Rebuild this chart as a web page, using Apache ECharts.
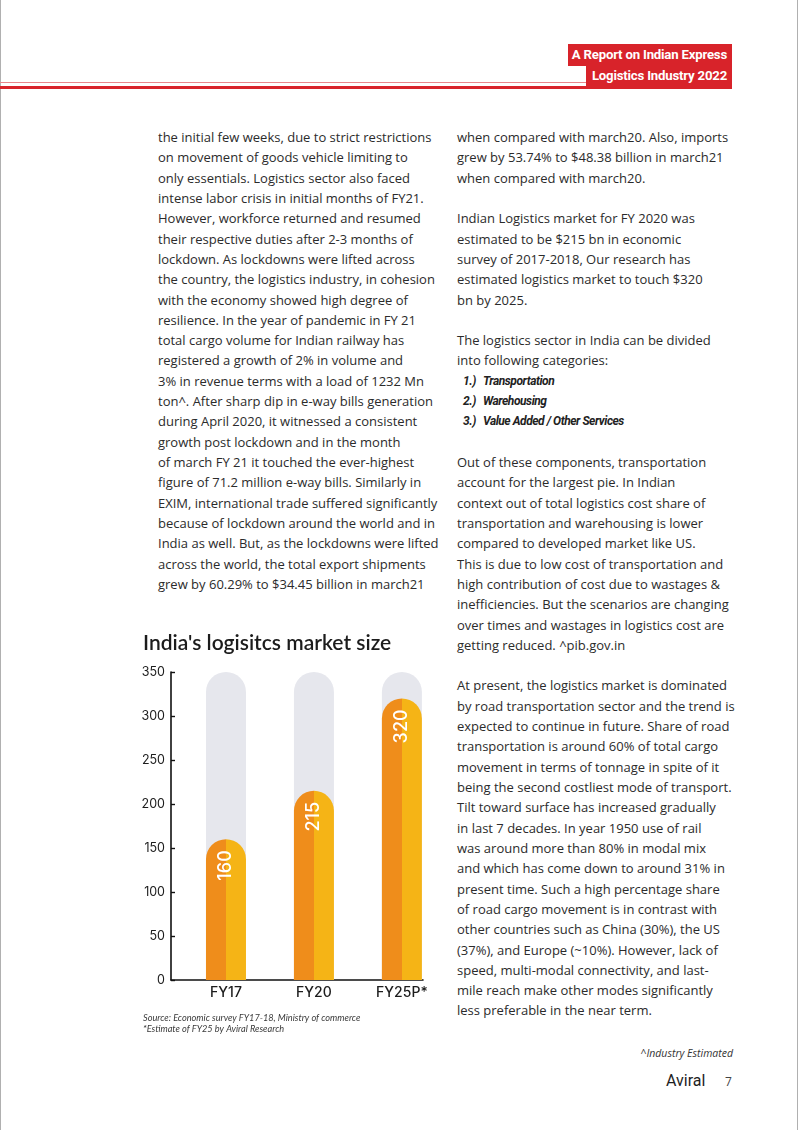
<!DOCTYPE html>
<html>
<head>
<meta charset="utf-8">
<script src="https://cdn.jsdelivr.net/npm/echarts@6/dist/echarts.min.js"></script>
<style>
  html, body { margin: 0; padding: 0; background: #fff; }
  #page { position: relative; width: 802px; height: 1130px; overflow: hidden; background: #fff; }
  .edgeL { position: absolute; left: 0; top: 0; width: 1px; height: 1130px; background: #b0b0b0; }
  .edgeR { position: absolute; left: 797px; top: 0; width: 1px; height: 1130px; background: #b0b0b0; }
  .hbox { position: absolute; background: #d8232a; color: #fff; font-family: Roboto, sans-serif; font-weight: 700;
          font-size: 13.2px; letter-spacing: -0.2px; text-align: right; box-sizing: border-box; padding-right: 5px; white-space: nowrap; }
  .thin { position: absolute; left: 0; top: 82px; width: 586px; height: 1px; background: #e9868a; }
  .thick { position: absolute; left: 0; top: 86px; width: 732px; height: 3px; background: #d8232a; }
  .col { position: absolute; top: 127px; font-family: "Open Sans", sans-serif; font-size: 13px; line-height: 20.32px;
         color: #2b2b2b; white-space: nowrap; }
  .li { font-family: "Roboto", sans-serif; font-weight: 700; font-style: italic; font-size: 12px; letter-spacing: -0.45px;
        padding-left: 6px; color: #222; }
  .li span { display: inline-block; width: 20px; }
  #chart { position: absolute; left: 130px; top: 620px; width: 310px; height: 420px; }
  .foot { position: absolute; font-family: "Open Sans", sans-serif; color: #333; white-space: nowrap; }
</style>
</head>
<body>
<div id="page">
  <div class="edgeL"></div>
  <div class="edgeR"></div>
  <div class="hbox" style="left:568px; top:44px; width:164px; height:22px; line-height:22px;">A Report on Indian Express</div>
  <div class="hbox" style="left:586px; top:66px; width:146px; height:21px; line-height:19px;">Logistics Industry 2022</div>
  <div class="thin"></div>
  <div class="thick"></div>

  <div class="col" style="left:158px;">
    the initial few weeks, due to strict restrictions<br>
    on movement of goods vehicle limiting to<br>
    only essentials. Logistics sector also faced<br>
    intense labor crisis in initial months of FY21.<br>
    However, workforce returned and resumed<br>
    their respective duties after 2-3 months of<br>
    lockdown. As lockdowns were lifted across<br>
    the country, the logistics industry, in cohesion<br>
    with the economy showed high degree of<br>
    resilience. In the year of pandemic in FY 21<br>
    total cargo volume for Indian railway has<br>
    registered a growth of 2% in volume and<br>
    3% in revenue terms with a load of 1232 Mn<br>
    ton^. After sharp dip in e-way bills generation<br>
    during April 2020, it witnessed a consistent<br>
    growth post lockdown and in the month<br>
    of march FY 21 it touched the ever-highest<br>
    figure of 71.2 million e-way bills. Similarly in<br>
    EXIM, international trade suffered significantly<br>
    because of lockdown around the world and in<br>
    India as well. But, as the lockdowns were lifted<br>
    across the world, the total export shipments<br>
    grew by 60.29% to $34.45 billion in march21
  </div>

  <div class="col" style="left:457px;">
    when compared with march20. Also, imports<br>
    grew by 53.74% to $48.38 billion in march21<br>
    when compared with march20.<br>
    <br>
    Indian Logistics market for FY 2020 was<br>
    estimated to be $215 bn in economic<br>
    survey of 2017-2018, Our research has<br>
    estimated logistics market to touch $320<br>
    bn by 2025.<br>
    <br>
    The logistics sector in India can be divided<br>
    into following categories:<br>
    <div class="li"><span>1.)</span>Transportation</div>
    <div class="li"><span>2.)</span>Warehousing</div>
    <div class="li"><span>3.)</span>Value Added / Other Services</div>
    <br>
    Out of these components, transportation<br>
    account for the largest pie. In Indian<br>
    context out of total logistics cost share of<br>
    transportation and warehousing is lower<br>
    compared to developed market like US.<br>
    This is due to low cost of transportation and<br>
    high contribution of cost due to wastages &amp;<br>
    inefficiencies. But the scenarios are changing<br>
    over times and wastages in logistics cost are<br>
    getting reduced. ^pib.gov.in<br>
    <br>
    At present, the logistics market is dominated<br>
    by road transportation sector and the trend is<br>
    expected to continue in future. Share of road<br>
    transportation is around 60% of total cargo<br>
    movement in terms of tonnage in spite of it<br>
    being the second costliest mode of transport.<br>
    Tilt toward surface has increased gradually<br>
    in last 7 decades. In year 1950 use of rail<br>
    was around more than 80% in modal mix<br>
    and which has come down to around 31% in<br>
    present time. Such a high percentage share<br>
    of road cargo movement is in contrast with<br>
    other countries such as China (30%), the US<br>
    (37%), and Europe (~10%). However, lack of<br>
    speed, multi-modal connectivity, and last-<br>
    mile reach make other modes significantly<br>
    less preferable in the near term.
  </div>

  <div id="chart"></div>

  <div class="foot" style="left:600px; width:133px; top:1046px; text-align:right; font-style:italic; font-size:10.5px;">^Industry Estimated</div>
  <div class="foot" style="left:666px; top:1071px; font-family:Roboto, sans-serif; font-size:16px; color:#1e1e1e;">Aviral</div>
  <div class="foot" style="left:725px; top:1073px; font-size:12px; color:#444;">7</div>
</div>

<script>
// ---- data ----
const categories = ['FY17', 'FY20', 'FY25P*'];
const marketSize = [160, 215, 320];          // USD bn
const yAxisMax = 350;
const yAxisStep = 50;
const chartTitle = "India's logisitcs market size";
const sourceLines = ['Source: Economic survey FY17-18, Ministry of commerce', '*Estimate of FY25 by Aviral Research'];

const chart = echarts.init(document.getElementById('chart'), null, { renderer: 'canvas' });

const barFill = new echarts.graphic.LinearGradient(0, 0, 1, 0, [
  { offset: 0, color: '#ef8d1b' },
  { offset: 0.5, color: '#ef8d1b' },
  { offset: 0.5, color: '#f5b416' },
  { offset: 1, color: '#f5b416' }
]);

chart.setOption({
  animation: false,
  title: [
    {
      text: chartTitle, left: 13, top: 13, padding: 0,
      textStyle: { fontFamily: 'Lato', fontWeight: 600, fontSize: 21, color: '#1c1c1c' }
    },
    {
      text: sourceLines.join('\n'), left: 13, top: 392, padding: 0,
      textStyle: { fontFamily: 'Lato', fontStyle: 'italic', fontWeight: 400, fontSize: 9.2, lineHeight: 11.5, color: '#3a3a3a' }
    }
  ],
  grid: { left: 41, top: 52, width: 252, height: 308, containLabel: false },
  xAxis: {
    type: 'value',
    min: -0.625, max: 2.24,
    splitLine: { show: false },
    axisTick: { show: false },
    axisLine: { show: true, onZero: false, lineStyle: { color: '#111', width: 1.6 } },
    axisLabel: {
      customValues: [0, 1, 2],
      formatter: v => categories[Math.round(v)],
      margin: 6,
      fontFamily: 'Inter', fontWeight: 500, fontSize: 14, color: '#1c1c1c'
    }
  },
  yAxis: {
    type: 'value',
    min: 0, max: yAxisMax, interval: yAxisStep,
    splitLine: { show: false },
    axisLine: { show: true, onZero: false, lineStyle: { color: '#111', width: 1.6 } },
    axisTick: { show: true, inside: true, length: 4, lineStyle: { color: '#111', width: 1.4 } },
    axisLabel: { margin: 6, fontFamily: 'Inter', fontSize: 12.5, color: '#1c1c1c' }
  },
  series: [{
    type: 'bar',
    data: marketSize.map((v, i) => [i, v]),
    barWidth: 40,
    showBackground: true,
    backgroundStyle: { color: '#e6e7ed', borderRadius: [20, 20, 0, 0] },
    itemStyle: { color: barFill, borderRadius: [20, 20, 0, 0] },
    label: {
      show: true,
      position: 'insideTop',
      distance: 11,
      rotate: 90,
      align: 'right',
      verticalAlign: 'middle',
      formatter: p => p.value[1],
      fontFamily: 'Inter', fontWeight: 500, fontSize: 18, color: '#ffffff'
    }
  }]
});
</script>
</body>
</html>
